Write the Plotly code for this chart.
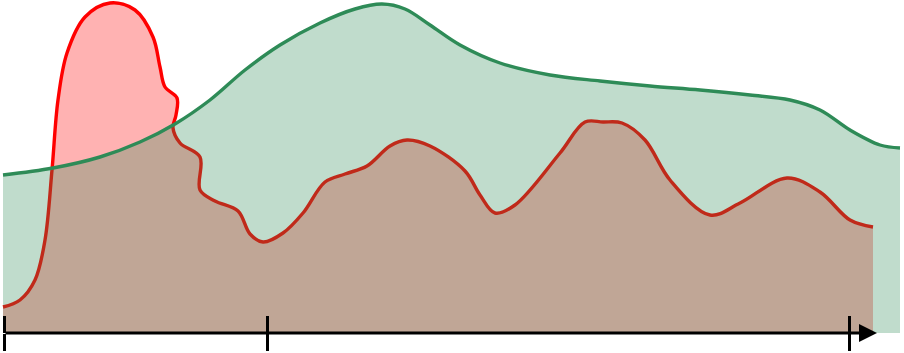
import plotly.graph_objects as go

# Series A (red) — x positions and pixel-row readings (converted to heights above the axis)
red_x = [3, 20, 35, 45, 52, 58, 67, 85, 110, 135, 153, 160, 165, 177, 176, 173, 180, 200,
         200, 215, 238, 250, 263, 283, 303, 325, 345, 367, 390, 407, 430, 465, 480, 495,
         515, 560, 585, 603, 622, 645, 670, 710, 740, 787, 820, 850, 873]
red_py = [307, 300, 280, 240, 170, 100, 53, 17, 3, 10, 37, 67, 87, 98, 115, 128, 143, 157,
          190, 201, 211, 234, 242, 233, 213, 182, 174, 166, 146, 140, 146, 171, 195, 213,
          205, 153, 122, 122, 123, 140, 180, 215, 203, 178, 192, 220, 227]

# Series B (green)
green_x = [3, 53, 100, 140, 175, 210, 245, 280, 320, 355, 382, 405, 430, 460, 500, 550,
           600, 650, 700, 750, 790, 820, 850, 880, 900]
green_py = [175, 168, 157, 142, 124, 100, 70, 45, 23, 9, 4, 9, 25, 45, 63, 75,
            81, 86, 90, 95, 100, 110, 130, 145, 148]

BASE = 333
red_y = [BASE - v for v in red_py]
green_y = [BASE - v for v in green_py]

tick_vals = [4, 267, 849]
axis_start = 4
axis_end = 877

fig = go.Figure()
fig.add_trace(go.Scatter(
    x=red_x, y=red_y, mode="lines", fill="tozeroy",
    line=dict(color="#ff0000", width=3.4, shape="spline", smoothing=1.0),
    fillcolor="rgba(255,0,0,0.3)", hoverinfo="skip"))
fig.add_trace(go.Scatter(
    x=green_x, y=green_y, mode="lines", fill="tozeroy",
    line=dict(color="#2e8b57", width=3.4, shape="spline", smoothing=1.0),
    fillcolor="rgba(46,139,87,0.3)", hoverinfo="skip"))

pos = 20 / 353
fig.update_layout(
    width=904, height=353,
    margin=dict(l=0, r=0, t=0, b=0),
    paper_bgcolor="white", plot_bgcolor="white",
    showlegend=False,
    xaxis=dict(range=[0, 904], showgrid=False, zeroline=False, showline=False,
               tickvals=tick_vals, ticks="outside", ticklen=17, tickwidth=3,
               tickcolor="black", showticklabels=False, anchor="free", position=pos),
    xaxis2=dict(range=[0, 904], overlaying="x", showgrid=False, zeroline=False, showline=False,
                tickvals=tick_vals, ticks="inside", ticklen=17, tickwidth=3,
                tickcolor="black", showticklabels=False, anchor="free", position=pos, side="bottom"),
    yaxis=dict(range=[-20, 333], visible=False, showgrid=False, zeroline=False),
)
fig.add_trace(go.Scatter(x=[None], y=[None], xaxis="x2", showlegend=False, hoverinfo="skip"))

fig.add_annotation(x=axis_end, y=0, ax=axis_start, ay=0, xref="x", yref="y",
                   axref="x", ayref="y", showarrow=True, arrowhead=2, arrowsize=1.2,
                   arrowwidth=3, arrowcolor="black", text="")

fig.write_html("out.html")
